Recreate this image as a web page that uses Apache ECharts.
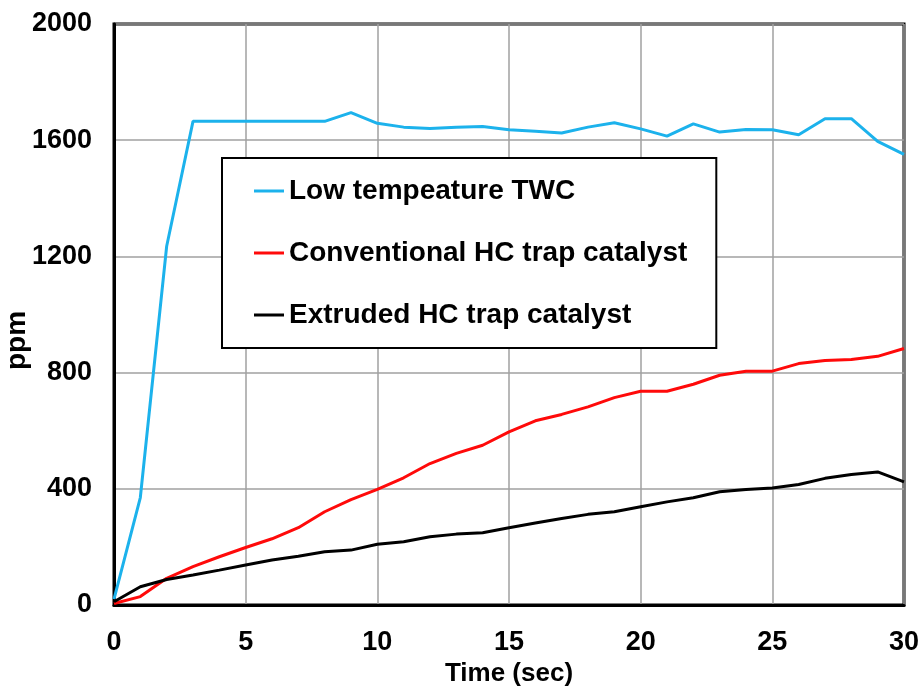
<!DOCTYPE html>
<html>
<head>
<meta charset="utf-8">
<script src="https://cdn.jsdelivr.net/npm/echarts@6/dist/echarts.min.js"></script>
<style>
  html, body { margin: 0; padding: 0; background: #fff; }
  #chart { width: 922px; height: 692px; }
</style>
</head>
<body>
<div id="chart"></div>
<script>
  const timeSec = [0, 1, 2, 3, 4, 5, 6, 7, 8, 9, 10, 11, 12, 13, 14, 15, 16, 17, 18, 19, 20, 21, 22, 23, 24, 25, 26, 27, 28, 29, 30]
  const lowTempTwc = [20, 370, 1235, 1665, 1665, 1665, 1665, 1665, 1665, 1695, 1658, 1645, 1640, 1645, 1647, 1636, 1631, 1625, 1645, 1660, 1639, 1614, 1656, 1628, 1637, 1636, 1619, 1674, 1674, 1596, 1551]
  const conventionalTrap = [5, 29, 92, 132, 166, 198, 228, 266, 321, 363, 398, 438, 487, 522, 550, 596, 634, 656, 682, 714, 736, 736, 760, 791, 805, 805, 831, 842, 845, 856, 883]
  const extrudedTrap = [11, 63, 88, 103, 120, 138, 155, 168, 183, 189, 209, 218, 235, 244, 249, 266, 282, 298, 312, 321, 338, 355, 369, 390, 398, 403, 415, 436, 449, 458, 424]
  const seriesNames = ['Low tempeature TWC', 'Conventional HC trap catalyst', 'Extruded HC trap catalyst']

  const pair = (ys) => timeSec.map((t, i) => [t, ys[i]])
  const font = 'Liberation Sans, Arial, sans-serif'

  const chart = echarts.init(document.getElementById('chart'), null, { renderer: 'canvas' })

  const lineSeries = (name, data, color) => ({
    name: name,
    type: 'line',
    data: pair(data),
    symbol: 'none',
    color: color,
    lineStyle: { color: color, width: 3 }
  })

  chart.setOption({
    animation: false,
    grid: {
      left: 114,
      right: 18,
      top: 24,
      bottom: 87,
      containLabel: false,
      outerBoundsMode: 'none',
      show: true,
      borderColor: '#000',
      borderWidth: 3
    },
    legend: {
      data: seriesNames,
      orient: 'vertical',
      left: 222,
      top: 158,
      padding: [19, 29, 19, 32],
      itemGap: 34,
      itemWidth: 30,
      itemHeight: 3,
      icon: 'rect',
      borderColor: '#000',
      borderWidth: 2,
      backgroundColor: '#fff',
      textStyle: { fontFamily: font, fontWeight: 'bold', fontSize: 28, lineHeight: 28, color: '#000' }
    },
    xAxis: {
      type: 'value',
      min: 0,
      max: 30,
      interval: 5,
      name: 'Time (sec)',
      nameLocation: 'middle',
      nameGap: 56,
      nameMoveOverlap: false,
      nameTextStyle: { fontFamily: font, fontWeight: 'bold', fontSize: 26, color: '#000' },
      axisLine: { lineStyle: { color: '#000', width: 3 } },
      axisTick: { show: false },
      axisLabel: { fontFamily: font, fontWeight: 'bold', fontSize: 27, color: '#000', margin: 24 },
      splitLine: { lineStyle: { color: '#a0a0a0', width: 1.5 } }
    },
    yAxis: {
      type: 'value',
      min: 0,
      max: 2000,
      interval: 400,
      name: 'ppm',
      nameLocation: 'middle',
      nameGap: 83,
      nameMoveOverlap: false,
      nameTextStyle: { fontFamily: font, fontWeight: 'bold', fontSize: 28, color: '#000', padding: [0, 52, 0, 0] },
      axisLine: { show: true, lineStyle: { color: '#000', width: 3 } },
      axisTick: { show: false },
      axisLabel: { fontFamily: font, fontWeight: 'bold', fontSize: 27, color: '#000', margin: 22, formatter: (v) => String(v) },
      splitLine: { lineStyle: { color: '#a0a0a0', width: 1.5 } }
    },
    series: [
      lineSeries(seriesNames[0], lowTempTwc, '#1cb2ec'),
      lineSeries(seriesNames[1], conventionalTrap, '#ff0a0a'),
      lineSeries(seriesNames[2], extrudedTrap, '#000000')
    ]
  })
</script>
</body>
</html>
